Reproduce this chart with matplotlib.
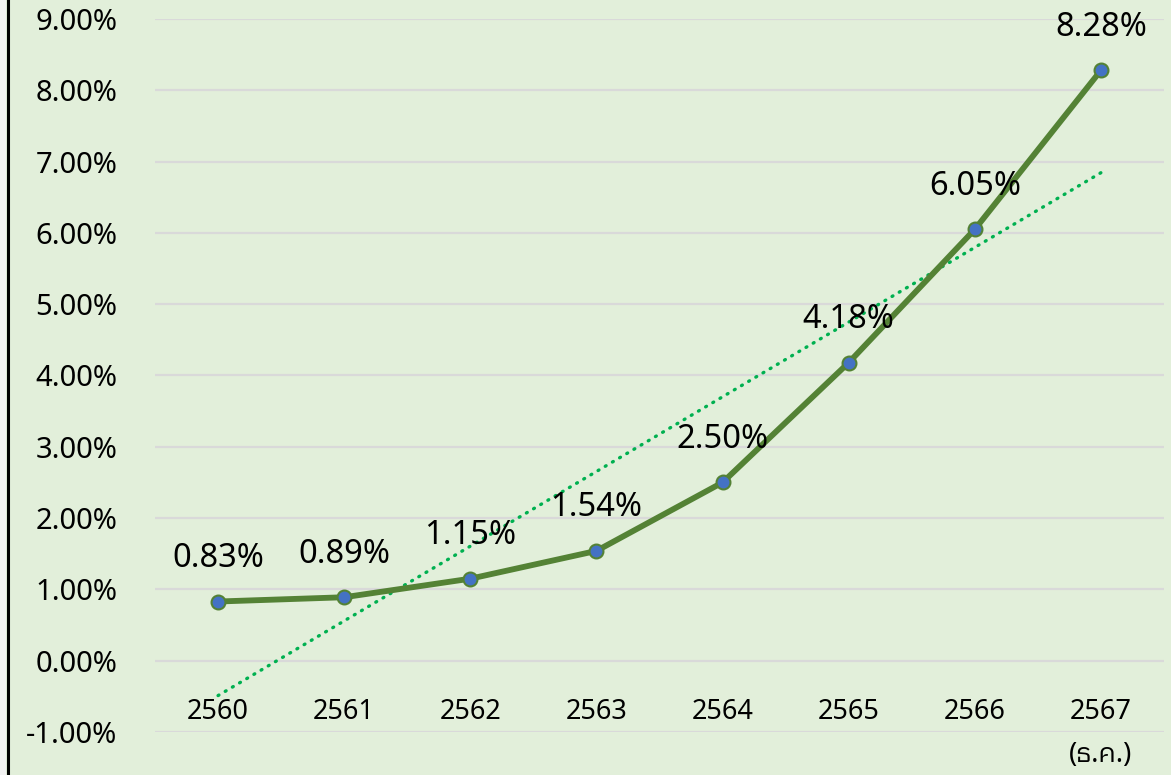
import numpy as np
import matplotlib
matplotlib.use('Agg')
import matplotlib.pyplot as plt
from matplotlib.patches import Rectangle
from matplotlib.lines import Line2D
from matplotlib import font_manager

years = ['2560', '2561', '2562', '2563', '2564', '2565', '2566', '2567']
values = [0.83, 0.89, 1.15, 1.54, 2.50, 4.18, 6.05, 8.28]
yticks = [-1, 0, 1, 2, 3, 4, 5, 6, 7, 8, 9]
note = '(ธ.ค.)'

# fallback families that can draw Thai
thai = sorted(set(f.name for f in font_manager.fontManager.ttflist
                  if 'thai' in f.name.lower() or 'loma' in f.name.lower()))
plt.rcParams['font.family'] = ['Noto Sans', 'DejaVu Sans'] + thai

W, H = 1171, 775
fig = plt.figure(figsize=(W / 100, H / 100), dpi=100, facecolor='#E2EFDA')
# plot area in pixels: x 155..1164, 9% at y=19, -1% at y=732
ax = fig.add_axes([155 / W, 1 - 732 / H, (1164 - 155) / W, (732 - 19) / H])
ax.set_facecolor('none')

x = np.arange(len(years))
ax.set_xlim(-0.5, len(years) - 0.5)
ax.set_ylim(-1, 9)
ax.set_yticks(yticks)
ax.set_yticklabels([f'{t:.2f}%' for t in yticks], fontsize=21)
ax.tick_params(axis='y', length=0, pad=27)
ax.set_xticks([])
for s in ax.spines.values():
    s.set_visible(False)
ax.grid(axis='y', color='#D9D9D9', linewidth=1.6)
ax.set_axisbelow(True)

# linear trend
k, b = np.polyfit(x, values, 1)
ax.plot(x, k * x + b, color='#00B050', linewidth=2.4, linestyle=(0, (0.3, 2.2)),
        dash_capstyle='round', zorder=2)

ax.plot(x, values, color='#548235', linewidth=4.2, marker='o', markersize=10,
        markerfacecolor='#4472C4', markeredgecolor='#548235', markeredgewidth=1.5,
        zorder=3)

for xi, v in zip(x, values):
    ax.annotate(f'{v:.2f}%', (xi, v), xytext=(0, 31), textcoords='offset points',
                ha='center', va='center', fontsize=23.5, zorder=4)

for xi, yr in zip(x, years):
    ax.text(xi, -0.72, yr, ha='center', va='center', fontsize=19.5)
ax.text(x[-1], -1.32, note, ha='center', va='center', fontsize=19.5, clip_on=False)

fig.add_artist(Rectangle((0, 0), 6 / W, 1, transform=fig.transFigure,
                         facecolor='#F2F2F2', edgecolor='none'))
fig.add_artist(Line2D([7.5 / W, 7.5 / W], [0, 1], transform=fig.transFigure,
                      color='black', linewidth=2.2))

fig.savefig('out.png', dpi=100, facecolor=fig.get_facecolor())
